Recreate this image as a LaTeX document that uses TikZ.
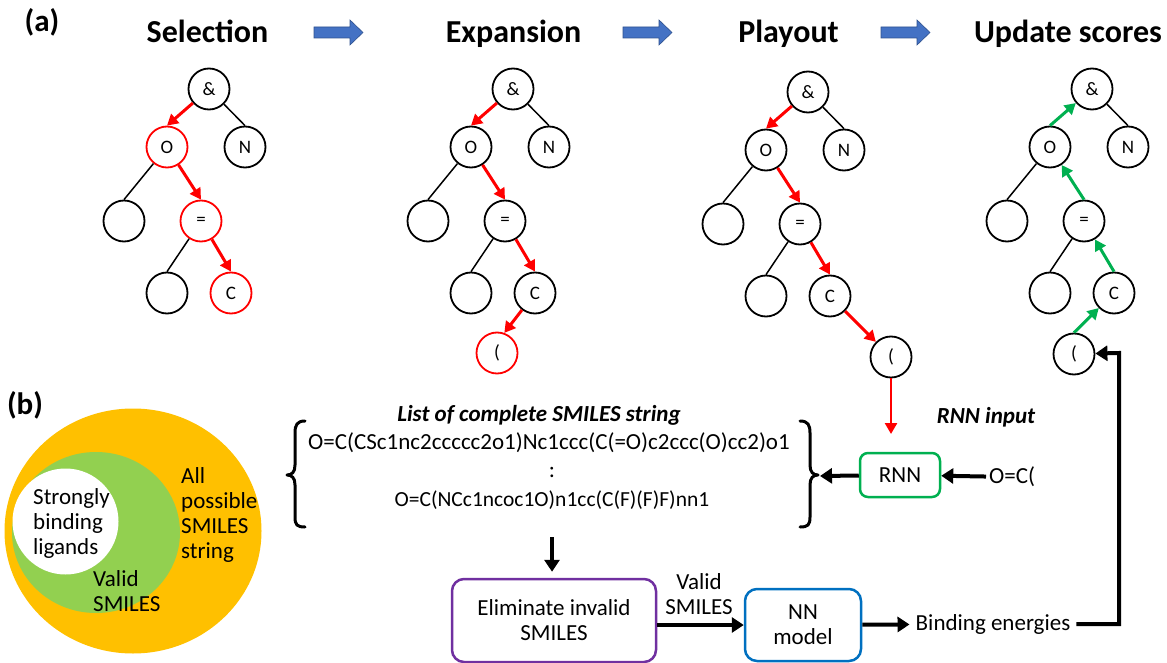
\documentclass[tikz,border=0pt]{standalone}
\usepackage{fontspec}
\setmainfont{Carlito}
\usetikzlibrary{arrows.meta}

\definecolor{mblue}{HTML}{4472C4}
\definecolor{mbluedark}{HTML}{2F528F}
\definecolor{mgreen}{HTML}{00B050}
\definecolor{vorange}{HTML}{FFC000}
\definecolor{vgreen}{HTML}{92D050}
\definecolor{mpurple}{HTML}{7030A0}
\definecolor{nnblue}{HTML}{0070C0}

% places the seven nodes of one search tree; #1 prefix, (#2,#3) root, #4 style of the selected path
\newcommand{\treenodes}[4]{%
  \begin{scope}[shift={(#2,#3)}]
    \node[tn]     (#1r)  at (0,0)     {\&};
    \node[tn,#4]  (#1o)  at (-42,58)  {O};
    \node[tn]     (#1n)  at (36,58)   {N};
    \node[tn]     (#1l)  at (-85,132) {};
    \node[tn,#4]  (#1e)  at (-8,132)  {=};
    \node[tn]     (#1ll) at (-42,204) {};
    \node[tn,#4]  (#1c)  at (22,204)  {C};
  \end{scope}}

% block arrow between the stage titles
\newcommand{\stagearrow}[1]{%
  \filldraw[stagearr] (#1,27) -- ++(36,0) -- ++(0,-7) -- ++(13,12.5)
    -- ++(-13,12.5) -- ++(0,-7) -- ++(-36,0) -- cycle;}

\begin{document}
\begin{tikzpicture}[x=1pt,y=-1pt,
  tn/.style={circle,draw,line width=1.8pt,minimum size=41pt,inner sep=0pt,
    font=\fontsize{19}{19}\selectfont},
  sel/.style={draw=red},
  plain/.style={},
  tedge/.style={line width=1.5pt},
  redarr/.style={draw=red,line width=3pt,-{Triangle[length=11pt,width=12pt]}},
  greenarr/.style={draw=mgreen,line width=3pt,-{Triangle[length=11pt,width=12pt]}},
  blk/.style={line width=4pt,-{Triangle[length=12pt,width=15pt]}},
  stagearr/.style={fill=mblue,draw=mbluedark,line width=0.6pt},
  title/.style={font=\bfseries\fontsize{32}{32}\selectfont,anchor=base,inner sep=0pt},
  txt/.style={font=\fontsize{23}{25}\selectfont},
  bitxt/.style={font=\bfseries\itshape\fontsize{23}{25}\selectfont},
  box/.style={draw,rounded corners=12pt,line width=2.5pt,align=center,txt},
  label/.style={font=\bfseries\fontsize{31}{31}\selectfont,inner sep=0pt}
]
\useasboundingbox (0,0) rectangle (1167,663);

% ---------- (a) the four stages of the tree search ----------
\node[label] (la) at (42,22) {(a)};
\node[title] (t1) at (207.5,43) {Selection};
\node[title] (t2) at (513.5,43) {Expansion};
\node[title] (t3) at (788.5,43) {Playout};
\node[title] (t4) at (1068,43) {Update scores};
\stagearrow{314}
\stagearrow{623}
\stagearrow{881}

% Selection
\treenodes{a}{209}{89}{sel}
\draw[tedge]  (ar) -- (an.north);
\draw[tedge]  (ao) -- (al.north);
\draw[tedge]  (ae) -- (all.north);
\draw[redarr] (ar) -- (ao.north);
\draw[redarr] (ao) -- (ae.north);
\draw[redarr] (ae) -- (ac.north);

% Expansion
\treenodes{b}{513}{89}{plain}
\node[tn,sel] (bp) at (497,353) {(};
\draw[tedge]  (br) -- (bn.north);
\draw[tedge]  (bo) -- (bl.north);
\draw[tedge]  (be) -- (bll.north);
\draw[redarr] (br) -- (bo.north);
\draw[redarr] (bo) -- (be.north);
\draw[redarr] (be) -- (bc.north);
\draw[redarr] (bc) -- (bp.70);

% Playout
\treenodes{c}{808}{92}{plain}
\node[tn] (cp) at (891,357) {(};
\draw[tedge]  (cr) -- (cn.north);
\draw[tedge]  (co) -- (cl.north);
\draw[tedge]  (ce) -- (cll.north);
\draw[redarr] (cr) -- (co.north);
\draw[redarr] (co) -- (ce.north);
\draw[redarr] (ce) -- (cc.north);
\draw[redarr] (cc) -- (cp);

% Update scores
\treenodes{d}{1092}{89}{plain}
\node[tn] (dp) at (1074,354) {(};
\draw[tedge]    (dr) -- (dn.north);
\draw[tedge]    (do) -- (dl.north);
\draw[tedge]    (de) -- (dll.north);
\draw[greenarr] (do.north) -- (dr);
\draw[greenarr] (de.north) -- (do);
\draw[greenarr] (dc.north) -- (de);
\draw[greenarr] (dp.north) -- (dc);

% ---------- (b) sets of SMILES strings ----------
\node[label] (lb) at (25,405) {(b)};
\fill[vorange] (133,531) ellipse [x radius=128.5pt, y radius=122.5pt];
\fill[vgreen]  (96,532.5) ellipse [x radius=84pt, y radius=80.5pt];
\fill[white]   (65.5,521.5) circle [radius=53pt];
\node[txt,align=left,anchor=west,inner sep=0pt] (vs) at (33,523) {Strongly\\binding\\ligands};
\node[txt,align=left,anchor=west,inner sep=0pt] (va) at (181,514.5) {All\\possible\\SMILES\\string};
\node[txt,align=left,anchor=west,inner sep=0pt] (vv) at (93,591.5) {Valid\\SMILES};

% ---------- generated strings ----------
\node[bitxt] (lt) at (539,415) {List of complete SMILES string};
\node[txt] (s1) at (549,443) {O=C(CSc1nc2ccccc2o1)Nc1ccc(C(=O)c2ccc(O)cc2)o1};
\node[txt] (s2) at (552,472) {:};
\node[txt,font=\fontsize{21.5}{25}\selectfont] (s3) at (552,500) {O=C(NCc1ncoc1O)n1cc(C(F)(F)F)nn1};

% curly braces round the list
\draw[line width=3pt,line cap=round,line join=round]
  (305,421) .. controls (297,421) and (295,425) .. (295,433) -- (295,465)
  .. controls (295,472) and (292,475) .. (287,475)
  .. controls (292,475) and (295,478) .. (295,485) -- (295,517)
  .. controls (295,525) and (297,527) .. (305,527);
\draw[line width=3pt,line cap=round,line join=round]
  (800,421) .. controls (808,421) and (810,425) .. (810,433) -- (810,465)
  .. controls (810,472) and (813,475) .. (818,475)
  .. controls (813,475) and (810,478) .. (810,485) -- (810,517)
  .. controls (810,525) and (808,527) .. (800,527);
\coordinate (rbr) at (820,476);
\coordinate (lbot) at (552,537);

% ---------- RNN ----------
\coordinate (rin) at (891,434);
\draw[draw=red,line width=2.5pt,-{Triangle[length=11pt,width=12pt]}] (cp) -- (rin);
\node[bitxt] (rl) at (986,417) {RNN input};
\node[box,draw=mgreen,rounded corners=8pt,minimum width=80pt,minimum height=44pt] (rnn) at (900,475) {RNN};
\node[txt,anchor=west,inner sep=3pt] (inp) at (986,477) {O=C(};
\draw[blk] (inp) -- (rnn);
\draw[blk] (rnn) -- (rbr);

% ---------- filtering and scoring ----------
\node[box,draw=mpurple,minimum width=204pt,minimum height=83pt] (elim) at (554,620.5) {Eliminate invalid\\SMILES};
\node[box,draw=nnblue,minimum width=116pt,minimum height=72pt] (nn) at (803,625) {NN\\model};
\node[txt,align=center] (vl) at (699,594) {Valid\\SMILES};
\node[txt,inner sep=6pt] (be) at (993,624) {Binding energies};
\coordinate (fb) at (1119,353);

\draw[blk,shorten >=6pt] (lbot) -- (lbot |- elim.north);
\draw[blk] (elim.east |- nn) -- (nn);
\draw[blk] (nn) -- (be);
\draw[blk] (be.east) -| (fb) -- (dp);
\end{tikzpicture}
\end{document}
